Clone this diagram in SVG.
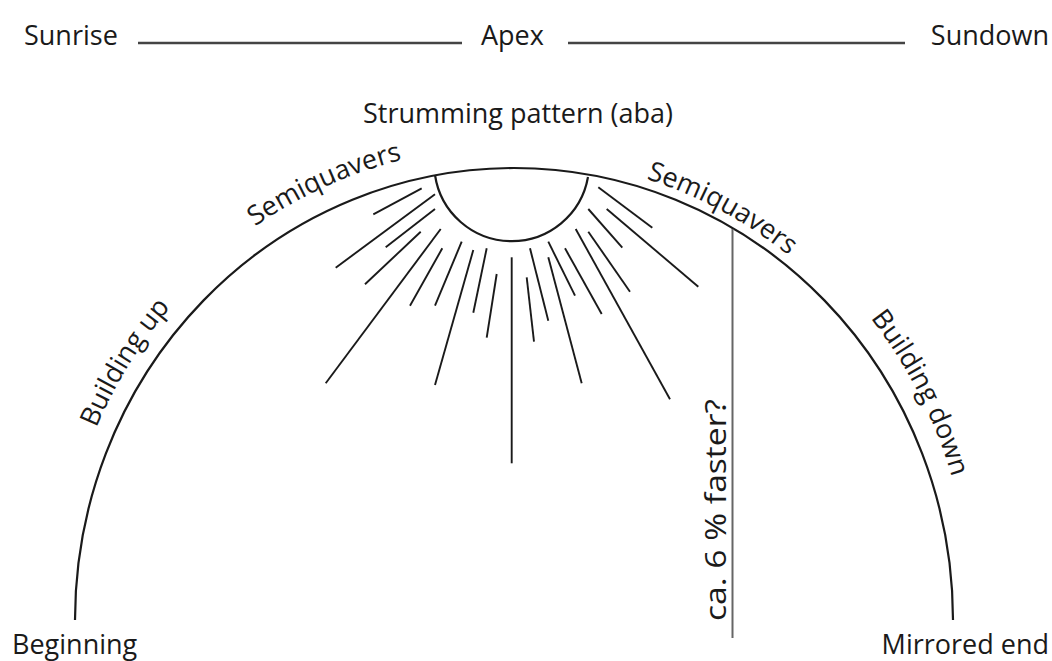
<svg xmlns="http://www.w3.org/2000/svg" xmlns:xlink="http://www.w3.org/1999/xlink" width="1052" height="661" viewBox="0 0 1052 661">
<style>
.t{font-family:"Open Sans","Noto Sans","Liberation Sans",sans-serif;font-size:27px;fill:#1a1a1a}
.ray{stroke:#1a1a1a;stroke-width:1.9;fill:none;stroke-linecap:butt}
.arc{stroke:#1a1a1a;stroke-width:2.2;fill:none}
.rule{stroke:#444;stroke-width:2.5}
</style>
<defs>
<path id="pBU" d="M 72 501 A 457 470 0 0 1 225 253"/>
<path id="pSL" d="M 229 246 A 461 474 0 0 1 434 153"/>
<path id="pSR" d="M 619 171 A 446 459 0 0 1 810 274"/>
<path id="pBD" d="M 843 286 A 459 472 0 0 1 962 518"/>
</defs>
<rect width="1052" height="661" fill="#fff"/>
<g id="header">
<text class="t" x="24" y="45">Sunrise</text>
<line class="rule" x1="138" y1="43" x2="462" y2="43"/>
<text class="t" x="481" y="45">Apex</text>
<line class="rule" x1="568" y1="43" x2="905" y2="43"/>
<text class="t" x="1049" y="45" text-anchor="end">Sundown</text>
</g>
<g id="arc">
<path class="arc" d="M 75 620 A 439 452 0 0 1 953 620"/>
<text class="t"><textPath xlink:href="#pBU" href="#pBU" startOffset="50%" text-anchor="middle">Building up</textPath></text>
<text class="t"><textPath xlink:href="#pSL" href="#pSL" startOffset="50%" text-anchor="middle">Semiquavers</textPath></text>
<text class="t"><textPath xlink:href="#pSR" href="#pSR" startOffset="50%" text-anchor="middle">Semiquavers</textPath></text>
<text class="t"><textPath xlink:href="#pBD" href="#pBD" startOffset="50%" text-anchor="middle">Building down</textPath></text>
</g>
<g id="strumming">
<text class="t" x="518" y="123" text-anchor="middle">Strumming pattern (aba)</text>
<path class="arc" d="M 435 175 A 77.5 77.5 0 0 0 588 177"/>
</g>
<g id="rays">
<line class="ray" x1="421.7" y1="188.3" x2="373.3" y2="214.3"/>
<line class="ray" x1="435" y1="194.3" x2="335.7" y2="267.7"/>
<line class="ray" x1="435" y1="209" x2="385.7" y2="247.3"/>
<line class="ray" x1="420.7" y1="231.7" x2="365" y2="284.3"/>
<line class="ray" x1="440.7" y1="229" x2="325.7" y2="383.3"/>
<line class="ray" x1="442.3" y1="248.3" x2="410" y2="305.7"/>
<line class="ray" x1="461.7" y1="241.7" x2="435" y2="305.7"/>
<line class="ray" x1="473.3" y1="250" x2="435" y2="385"/>
<line class="ray" x1="486.7" y1="248.3" x2="473.3" y2="312.7"/>
<line class="ray" x1="496.7" y1="274" x2="486.7" y2="337.7"/>
<line class="ray" x1="511.7" y1="257.3" x2="511.7" y2="463.3"/>
<line class="ray" x1="526.7" y1="277.3" x2="534" y2="341.7"/>
<line class="ray" x1="530" y1="248.3" x2="548.3" y2="320.7"/>
<line class="ray" x1="548.3" y1="257.3" x2="581.7" y2="383.3"/>
<line class="ray" x1="548.3" y1="241.7" x2="575" y2="295.7"/>
<line class="ray" x1="565" y1="248.3" x2="601.7" y2="314"/>
<line class="ray" x1="575.7" y1="229" x2="670" y2="399.3"/>
<line class="ray" x1="588.3" y1="231.7" x2="630" y2="291.7"/>
<line class="ray" x1="588.3" y1="209" x2="622.3" y2="247.7"/>
<line class="ray" x1="606.7" y1="209" x2="698.3" y2="286.7"/>
<line class="ray" x1="598.3" y1="187.3" x2="652.3" y2="227.7"/>
</g>
<g id="faster">
<line x1="732.5" y1="229" x2="732.5" y2="638" stroke="#666" stroke-width="2"/>
<text class="t" style="font-size:30px" transform="translate(726 510) rotate(-90)" text-anchor="middle" textLength="222" lengthAdjust="spacingAndGlyphs">ca. 6 % faster?</text>
</g>
<g id="ends">
<text class="t" x="12" y="654">Beginning</text>
<text class="t" x="1049" y="654" text-anchor="end">Mirrored end</text>
</g>
</svg>
